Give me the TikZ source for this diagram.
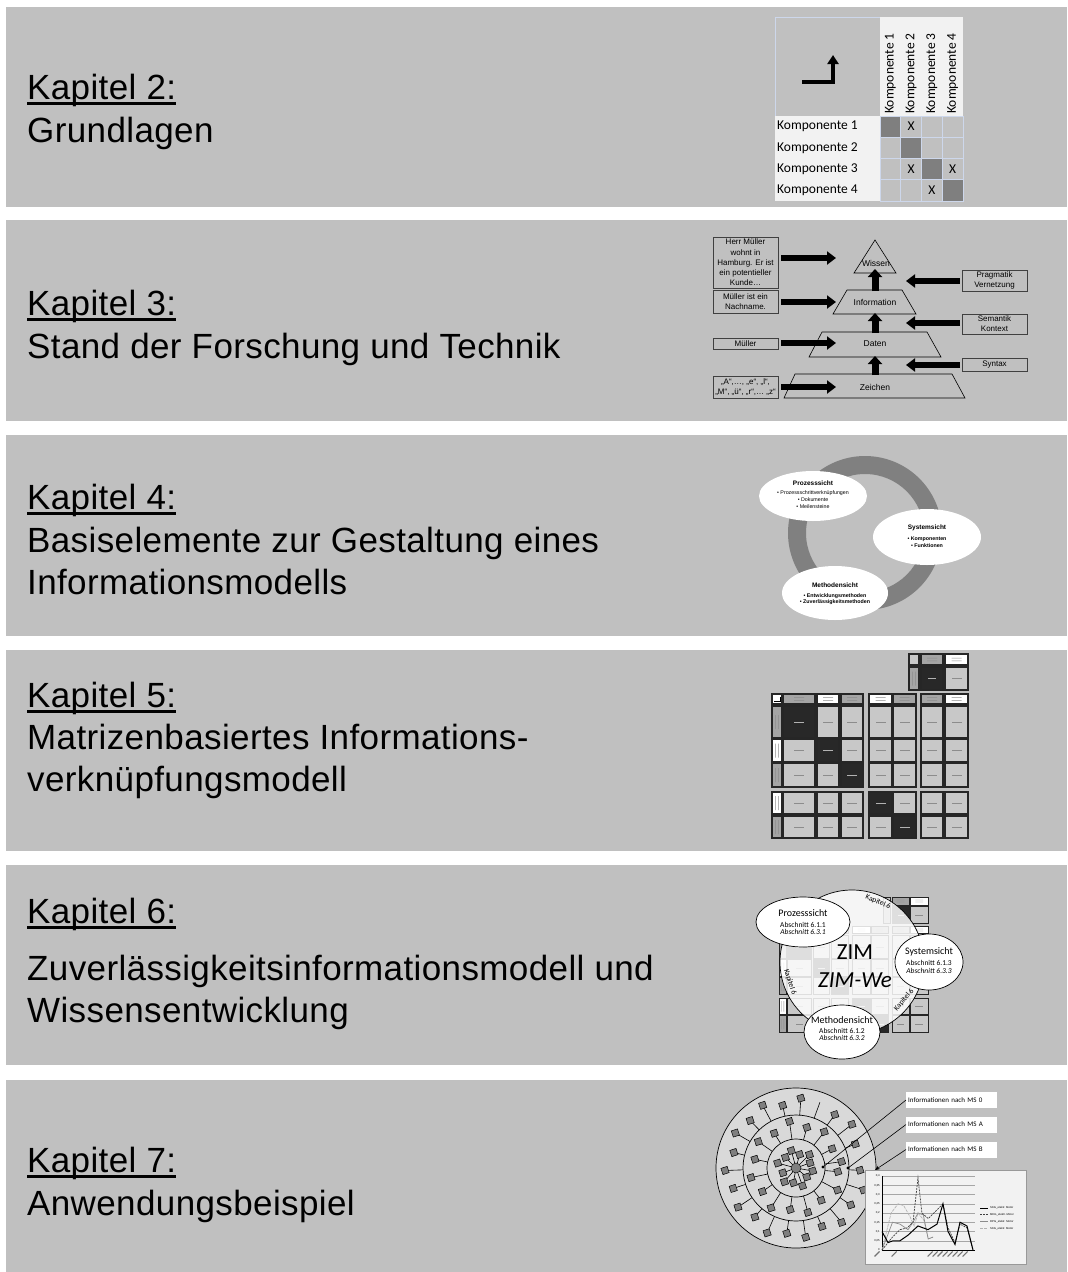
\documentclass[tikz,border=0pt]{standalone}
\usepackage{fontspec}
\setmainfont{Liberation Sans}
\newfontfamily\headfont[LetterSpace=1.1]{Liberation Sans}
\newfontfamily\calfont{Carlito}
\usetikzlibrary{arrows.meta,calc,shapes.geometric}

\definecolor{panelgray}{RGB}{192,192,192}
\definecolor{celldark}{RGB}{127,127,127}
\definecolor{gridblue}{RGB}{205,215,235}
\definecolor{paper}{RGB}{242,242,242}
\definecolor{ringgray}{RGB}{128,128,128}
\definecolor{mxcell}{RGB}{200,200,200}
\definecolor{mxhead}{RGB}{165,165,165}
\definecolor{mxdark}{RGB}{40,40,40}
\definecolor{netfill}{RGB}{217,217,217}

% information linkage matrix, drawn in local coordinates (origin top left)
\newcommand{\infomatrix}{%
  % system block on top
  \filldraw[mxline, fill=mxcell] (137,0) rectangle (147,11);
  \filldraw[mxline, fill=mxhead] (149,0) rectangle (171,11);
  \filldraw[mxline, fill=white] (173,0) rectangle (196,11);
  \filldraw[mxline, fill=mxhead] (137,13) rectangle (147,36);
  \filldraw[mxline, fill=mxdark] (149,13) rectangle (171,36);
  \filldraw[mxline, fill=mxcell] (173,13) rectangle (196,36);
  \fill[mxmark] ($(149,0)!0.5!(171,11)$) +(-5,-1.6) rectangle +(5,-1.1) +(-5,1.1) rectangle +(5,1.6);
  \fill[mxmark] ($(173,0)!0.5!(196,11)$) +(-5,-1.6) rectangle +(5,-1.1) +(-5,1.1) rectangle +(5,1.6);
  \fill[mxmark] ($(137,13)!0.5!(147,36)$) +(-1.6,-7) rectangle +(-1.1,7) +(1.1,-7) rectangle +(1.6,7);
  \fill[mxmarklight] ($(149,13)!0.5!(171,36)$) +(-4,-0.3) rectangle +(4,0.3);
  \fill[mxmark] ($(173,13)!0.5!(196,36)$) +(-5,-0.3) rectangle +(5,0.3);
  % corner cell with small arrow
  \filldraw[mxline, fill=white] (0,40) rectangle (10,50);
  \draw[line width=0.5pt] (2,47) -| (8,43);
  % column heads
  \foreach \xa/\xb/\fc in {11/43/mxhead,45/67/white,69/91/mxhead,97/120/white,121/144/mxhead,149/171/mxhead,173/196/white}{
    \filldraw[mxline, fill=\fc] (\xa,40) rectangle (\xb,50);
    \fill[mxmark] ($(\xa,40)!0.5!(\xb,50)$) +(-5,-1.6) rectangle +(5,-1.1) +(-5,1.1) rectangle +(5,1.6);
  }
  % row heads
  \foreach \ya/\yb/\fc in {52/84/mxhead,85/108/white,109/133/mxhead,138/160/white,162/184/mxhead}{
    \filldraw[mxline, fill=\fc] (0,\ya) rectangle (10,\yb);
    \fill[mxmark] ($(0,\ya)!0.5!(10,\yb)$) +(-1.6,-7) rectangle +(-1.1,7) +(1.1,-7) rectangle +(1.6,7);
  }
  % body cells, dark on the diagonal
  \foreach \ya/\yb/\r in {52/84/1,85/108/2,109/133/3,138/160/4,162/184/5}{
    \foreach \xa/\xb/\c in {11/43/1,45/67/2,69/91/3,97/120/4,121/144/5,149/171/6,173/196/7}{
      \ifnum\r=\c\relax\def\cellfill{mxdark}\def\markfill{mxmarklight}\else\def\cellfill{mxcell}\def\markfill{mxmark}\fi
      \filldraw[mxline, fill=\cellfill] (\xa,\ya) rectangle (\xb,\yb);
      \fill[\markfill] ($(\xa,\ya)!0.5!(\xb,\yb)$) +(-5,-0.3) rectangle +(5,0.3);
    }
  }
}

\begin{document}
\begin{tikzpicture}[x=1pt,y=-1pt,
  panelbg/.style={fill=panelgray},
  chaphead/.style={anchor=base west, inner sep=0pt, font=\headfont\fontsize{35}{40}\selectfont},
  headrule/.style={line width=2.2pt},
  kompfont/.style={font=\calfont\fontsize{13.5}{15}\selectfont, inner sep=0pt},
  rowlab/.style={kompfont, anchor=west},
  collab/.style={kompfont, rotate=90, anchor=west},
  dsmcell/.style={draw=gridblue, line width=0.8pt},
  larrow/.style={line width=4pt, -{Triangle[width=11pt,length=9pt]}},
  pyrbox/.style={draw=black!75, line width=0.6pt, fill=panelgray, font=\fontsize{8}{10.2}\selectfont, align=center, inner sep=0pt, minimum width=65pt},
  pyrlevel/.style={draw=black, line width=0.6pt, fill=panelgray},
  pyrtext/.style={font=\fontsize{8.5}{9}\selectfont, inner sep=0pt},
  blockarrow/.style={line width=5.5pt, -{Triangle[width=13pt,length=9pt]}},
  upblock/.style={line width=7pt, -{Triangle[width=14pt,length=8pt]}},
  viewell/.style={ellipse, fill=white, inner sep=0pt},
  viewtitle/.style={font=\bfseries\fontsize{6.5}{7}\selectfont, inner sep=0pt},
  viewitem/.style={font=\fontsize{5.3}{6.6}\selectfont, inner sep=0pt, align=center},
  mxline/.style={draw=black!85, line width=1.1pt},
  mxmark/.style={fill=black!45},
  mxmarklight/.style={fill=black!30},
  zimell/.style={ellipse, draw=black, line width=0.7pt, fill=white, inner sep=0pt},
  zimtitle/.style={font=\calfont\fontsize{10}{11}\selectfont, inner sep=0pt},
  zimsec/.style={font=\calfont\fontsize{7.5}{8}\selectfont, inner sep=0pt},
  kaplab/.style={font=\calfont\fontsize{7.5}{8}\selectfont, inner sep=0pt},
  spoke/.style={line width=0.6pt},
  netsq/.style={draw=black, fill=celldark, line width=0.5pt, minimum size=6.5pt, inner sep=0pt, rotate=18},
  labbox/.style={fill=white, inner xsep=2pt, inner ysep=0pt, minimum height=16pt, text width=87pt, align=left, anchor=west, font=\calfont\fontsize{7}{8}\selectfont},
  tinyfont/.style={font=\fontsize{2.8}{3}\selectfont, inner sep=0pt},
  seriesA/.style={black, line width=1pt},
  seriesB/.style={black!75, line width=0.7pt, dash pattern=on 2pt off 1pt},
  seriesC/.style={black!45, line width=0.7pt},
  seriesD/.style={black!30, line width=0.7pt, dash pattern=on 3pt off 1pt}
]
\useasboundingbox (0,0) rectangle (1068,1272);
\fill[white] (0,0) rectangle (1068,1272);

% chapter panels
\foreach \ta/\tb in {7/207,220/421,435/636,650/851,865/1065,1080/1272}
  \fill[panelbg] (6,\ta) rectangle (1067,\tb);

% chapter headings
\node[chaphead] (k2) at (27,99) {Kapitel 2:};
\node[chaphead] (t2) at (27,142) {Grundlagen};
\node[chaphead] (k3) at (27,315) {Kapitel 3:};
\node[chaphead] (t3) at (27,358) {Stand der Forschung und Technik};
\node[chaphead] (k4) at (27,509) {Kapitel 4:};
\node[chaphead] (t4a) at (27,552) {Basiselemente zur Gestaltung eines};
\node[chaphead] (t4b) at (27,594) {Informationsmodells};
\node[chaphead] (k5) at (27,707) {Kapitel 5:};
\node[chaphead] (t5a) at (27,749) {Matrizenbasiertes Informations-};
\node[chaphead] (t5b) at (27,791) {verknüpfungsmodell};
\node[chaphead] (k6) at (27,923) {Kapitel 6:};
\node[chaphead] (t6a) at (27,980) {Zuverlässigkeitsinformationsmodell und};
\node[chaphead] (t6b) at (27,1022) {Wissensentwicklung};
\node[chaphead] (k7) at (27,1172) {Kapitel 7:};
\node[chaphead] (t7) at (27,1215) {Anwendungsbeispiel};
\foreach \k in {k2,k3,k4,k5,k6,k7}
  \draw[headrule] ($(\k.base west)+(0,4.5)$) -- ($(\k.base east)+(0,4.5)$);

% ---- Kapitel 2: design structure matrix
\draw[gridblue, line width=0.8pt, fill=panelgray] (775,17) rectangle (880,116);
\fill[paper] (880,17) rectangle (963,116);
\fill[paper] (775,116) rectangle (880,201);
\foreach \r in {1,...,4}{
  \foreach \c in {1,...,4}{
    \ifnum\r=\c\relax\def\cellfill{celldark}\else\def\cellfill{panelgray}\fi
    \filldraw[dsmcell, fill=\cellfill] ({880+(\c-1)*20.75},{116+(\r-1)*21.25}) rectangle +(20.75,21.25);
  }
}
\foreach \i/\y in {1/126.6,2/147.9,3/169.1,4/190.4}
  \node[rowlab] (rl\i) at (777,\y) {Komponente \i};
\foreach \i/\x in {1/890.4,2/911.1,3/931.9,4/952.6}
  \node[collab] (cl\i) at (\x,114) {Komponente \i};
\node[kompfont] (x12) at (911.1,126.6) {X};
\node[kompfont] (x32) at (911.1,169.1) {X};
\node[kompfont] (x34) at (952.6,169.1) {X};
\node[kompfont] (x43) at (931.9,190.4) {X};
\coordinate (lstart) at (802,82);
\coordinate (ltip) at (833,55);
\draw[larrow] (lstart) -| (ltip);

% ---- Kapitel 3: knowledge pyramid
\draw[pyrlevel] (875,240) -- (896,273) -- (854,273) -- cycle;
\draw[pyrlevel] (847,290) -- (902,290) -- (916,314) -- (833,314) -- cycle;
\draw[pyrlevel] (822,332) -- (927,332) -- (941,357) -- (809,357) -- cycle;
\draw[pyrlevel] (795,374) -- (952,374) -- (965,398) -- (784,398) -- cycle;
\node[pyrtext] (wissen) at (876,263) {Wissen};
\node[pyrtext] (info) at (875,302) {Information};
\node[pyrtext] (daten) at (875,344) {Daten};
\node[pyrtext] (zeichen) at (875,387) {Zeichen};
\coordinate (infotop) at (875,291);
\coordinate (wissenbase) at (875,269);
\coordinate (datentop) at (875,333);
\coordinate (infobase) at (875,313);
\coordinate (zeichentop) at (875,375);
\coordinate (datenbase) at (875,356);
\draw[upblock] (infotop) -- (wissenbase);
\draw[upblock] (datentop) -- (infobase);
\draw[upblock] (zeichentop) -- (datenbase);

\node[pyrbox, minimum height=51pt] (b1) at (745.5,262.5) {Herr Müller\\wohnt in\\Hamburg. Er ist\\ein potentieller\\Kunde…};
\node[pyrbox, minimum height=23pt] (b2) at (745.5,301.5) {Müller ist ein\\Nachname.};
\node[pyrbox, minimum height=11pt] (b3) at (745.5,343.5) {Müller};
\node[pyrbox, minimum height=22pt] (b4) at (745.5,387) {„A“,…, „e“, „l“,\\„M“, „ü“, „r“,… „z“};
\coordinate (a1) at (836,258);
\coordinate (a2) at (836,302);
\coordinate (a3) at (836,343);
\coordinate (a4) at (836,387);
\draw[blockarrow] ($(b1.east |- a1)+(3,0)$) -- (a1);
\draw[blockarrow] ($(b2.east |- a2)+(3,0)$) -- (a2);
\draw[blockarrow] ($(b3.east |- a3)+(3,0)$) -- (a3);
\draw[blockarrow] ($(b4.east |- a4)+(3,0)$) -- (a4);

\node[pyrbox, minimum height=21pt] (r1) at (994.5,280.5) {Pragmatik\\Vernetzung};
\node[pyrbox, minimum height=20pt] (r2) at (994.5,324) {Semantik\\Kontext};
\node[pyrbox, minimum height=13pt] (r3) at (994.5,364.5) {Syntax};
\coordinate (p1) at (906,281);
\coordinate (p2) at (906,323);
\coordinate (p3) at (906,365);
\draw[blockarrow] ($(r1.west |- p1)+(-2,0)$) -- (p1);
\draw[blockarrow] ($(r2.west |- p2)+(-2,0)$) -- (p2);
\draw[blockarrow] ($(r3.west |- p3)+(-2,0)$) -- (p3);

% ---- Kapitel 4: three views around a ring
\fill[ringgray, even odd rule] (865,533) circle[radius=77] (865,533) circle[radius=59];
\node[viewell, minimum width=108pt, minimum height=50pt] (proz) at (813,496) {};
\node[viewell, minimum width=108pt, minimum height=56pt] (sys) at (927,537) {};
\node[viewell, minimum width=106pt, minimum height=54pt] (meth) at (835,593) {};
\node[viewtitle] (prozt) at (813,483) {Prozesssicht};
\node[viewitem] (prozi) at (813,499.5) {• Prozessschrittverknüpfungen\\• Dokumente\\• Meilensteine};
\node[viewtitle] (syst) at (927,528) {Systemsicht};
\node[viewitem, font=\bfseries\fontsize{5.3}{6.6}\selectfont] (sysi) at (927,542) {• Komponenten\\• Funktionen};
\node[viewtitle] (metht) at (835,585) {Methodensicht};
\node[viewitem, font=\bfseries\fontsize{5.3}{6.6}\selectfont] (methi) at (835,599) {• Entwicklungsmethoden\\• Zuverlässigkeitsmethoden};

% ---- Kapitel 5: matrix based linkage model
\begin{scope}[shift={(772,654)}]
  \infomatrix
\end{scope}

% ---- Kapitel 6: ZIM over the matrix
\begin{scope}[shift={(779,897)}, xscale=0.76, yscale=0.734, mxline/.style={draw=black!85, line width=0.9pt}]
  \infomatrix
\end{scope}
\node[circle, draw=black, line width=0.7pt, fill=white, fill opacity=0.85, minimum size=144pt, inner sep=0pt] (zim) at (852,962) {};
\node[kaplab, rotate=-22] (kapa) at (878,902) {Kapitel 6};
\node[kaplab, rotate=-72] (kapb) at (790,982) {Kapitel 6};
\node[kaplab, rotate=50] (kapc) at (904,1000) {Kapitel 6};
\node[font=\calfont\fontsize{23}{25}\selectfont, inner sep=0pt] (zimt) at (855,952) {ZIM};
\node[font=\calfont\itshape\fontsize{23}{25}\selectfont, inner sep=0pt] (zimwe) at (855,980) {ZIM-We};
\node[zimell, minimum width=94pt, minimum height=50pt] (zp) at (803,922) {};
\node[zimell, minimum width=68pt, minimum height=56pt] (zs) at (929,962) {};
\node[zimell, minimum width=76pt, minimum height=54pt] (zm) at (842,1032) {};
\node[zimtitle] (zpt) at (803,912.7) {Prozesssicht};
\node[zimsec] (zp1) at (803,925) {Abschnitt 6.1.1};
\node[zimsec, font=\calfont\itshape\fontsize{7.5}{8}\selectfont] (zp2) at (803,932) {Abschnitt 6.3.1};
\node[zimtitle] (zst) at (929,952.3) {Systemsicht};
\node[zimsec] (zs1) at (929,963.3) {Abschnitt 6.1.3};
\node[zimsec, font=\calfont\itshape\fontsize{7.5}{8}\selectfont] (zs2) at (929,970.7) {Abschnitt 6.3.3};
\node[zimtitle] (zmt) at (842,1020) {Methodensicht};
\node[zimsec] (zm1) at (842,1030.5) {Abschnitt 6.1.2};
\node[zimsec, font=\calfont\itshape\fontsize{7.5}{8}\selectfont] (zm2) at (842,1038.3) {Abschnitt 6.3.2};

% ---- Kapitel 7: information network and chart
\fill[netfill] (796,1168) circle[radius=80];
\draw[line width=0.7pt] (796,1168) circle[radius=80];
\draw[line width=0.7pt] (796,1168) circle[radius=53];
\draw[line width=0.7pt] (796,1168) circle[radius=29];
\node[circle, draw=black, fill=celldark, line width=0.5pt, minimum size=10pt, inner sep=0pt] (hub) at (796,1168) {};
\foreach \a/\r [count=\i] in {10/17,40/14,70/19,100/15,130/18,160/14,195/19,225/15,255/18,285/14,315/19,340/15}
  \draw[spoke] (hub) -- ($(hub)+(\a:\r)$) node[netsq] (cs\i) {};
\foreach \a/\r [count=\i] in {5/42,28/47,52/41,75/46,98/42,122/47,145/41,168/46,192/42,215/46,238/41,262/47,285/42,308/46,332/41,352/46}
  \draw[spoke] ($(hub)+(\a:29)$) -- ($(hub)+(\a:\r)$) node[netsq] (is\i) {};
\foreach \a/\r [count=\i] in {2/64,18/71,34/66,50/71,66/64,82/70,98/66,114/71,130/64,146/70,162/66,178/71,194/64,210/70,226/66,242/71,258/64,274/70,306/66,322/71,338/64}
  \draw[spoke] ($(hub)+(\a:53)$) -- ($(hub)+(\a:\r)$) node[netsq] (os\i) {};
\coordinate (openend) at ($(hub)+(290:70)$);
\draw[spoke] ($(hub)+(290:53)$) -- (openend);

\node[labbox] (ms0) at (906,1100) {Informationen nach MS 0};
\node[labbox] (msa) at (906,1124.5) {Informationen nach MS A};
\node[labbox] (msb) at (906,1149.5) {Informationen nach MS B};
\coordinate (d0) at (823,1167);
\coordinate (da) at (848,1168);
\coordinate (db) at (875,1170);
\draw[line width=0.6pt] (ms0.west) -- (d0);
\draw[line width=0.6pt] (msa.west) -- (da);
\draw[line width=0.6pt, -{Stealth[length=5pt,width=4pt]}] (msb.west) -- (db);
\fill (d0) circle[radius=1.6];
\fill (da) circle[radius=1.6];

% chart of information values
\filldraw[draw=black!40, line width=0.6pt, fill=paper] (865,1170) rectangle (1026,1264);
\begin{scope}[shift={(882,1250)}, x=7pt, y=185pt]
  \foreach \v/\t in {0/0,0.05/{0,05},0.1/{0,1},0.15/{0,15},0.2/{0,2},0.25/{0,25},0.3/{0,3},0.35/{0,35},0.4/{0,4}}{
    \draw[black!35, line width=0.3pt] (0,\v) -- (13.3,\v);
    \node[tinyfont, anchor=east] at (-0.3,\v) {\t};
  }
  \draw[line width=0.4pt] (0,0.4) -- (0,0) -- (13.3,0);
  \draw[seriesD] plot coordinates {(0,0) (1.3,0.2) (2.3,0.25) (3.1,0.24) (4,0.18) (4.6,0.13) (5.14,0.2) (6,0.16) (6.6,0.06) (7.3,0.07)};
  \draw[seriesC] plot coordinates {(0,0) (1.5,0.15) (2.57,0.14) (3.71,0.11) (4.43,0.15) (5.14,0.2) (5.9,0.19) (6.6,0.06) (7.3,0.07)};
  \draw[seriesB] plot coordinates {(0,0) (1.5,0.07) (2.57,0.11) (3.6,0.12) (4.43,0.15) (5.14,0.39) (5.7,0.2) (6.6,0.17) (7.4,0.2) (8.71,0.25) (9.43,0.12) (10.43,0.04) (11.14,0.14) (12.14,0.12) (13,0)};
  \draw[seriesA] plot coordinates {(0,0.1) (0.86,0.04) (1.57,0.05) (2.57,0.05) (3.71,0.08) (5.14,0.13) (6.57,0.11) (7.86,0.14) (8.71,0.25) (9.43,0.1) (10.43,0.03) (11.14,0.15) (12.14,0.13) (13,0)};
  \foreach \i in {-0.3,2.14,7.3,8,8.71,9.43,10.14,10.86,11.57,12.29}
    \fill[black!55] (\i,-0.01) -- +(-5pt,-5pt) -- +(-5.8pt,-4.2pt) -- +(-0.8pt,0.8pt) -- cycle;
\end{scope}
% chart legend
\draw[seriesA] (980,1208) -- (988,1208);
\node[tinyfont, anchor=west] (lg1) at (990,1208) {SKG\_elektr. Motor};
\draw[seriesB] (980,1214.5) -- (988,1214.5);
\node[tinyfont, anchor=west] (lg2) at (990,1214.5) {MKG\_elektr. Motor};
\draw[seriesC] (980,1221.5) -- (988,1221.5);
\node[tinyfont, anchor=west] (lg3) at (990,1221.5) {DPG\_elektr. Motor};
\draw[seriesD] (980,1228.5) -- (988,1228.5);
\node[tinyfont, anchor=west] (lg4) at (990,1228.5) {SKG\_elektr. Motor};
\end{tikzpicture}
\end{document}
